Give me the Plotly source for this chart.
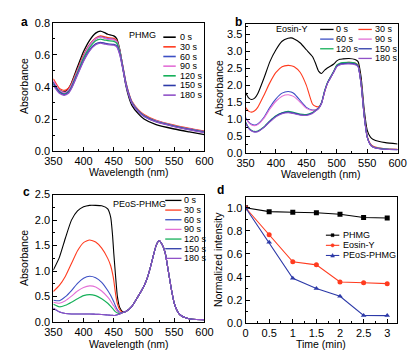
import plotly.graph_objects as go

# ---------------- data ----------------
TIMES = ["0 s", "30 s", "60 s", "90 s", "120 s", "150 s", "180 s"]
COLORS = ["#000000", "#ff3b1f", "#3c4fc4", "#e36fd6", "#16b05a", "#2d3aa8", "#9052c8"]

# Panel a: PHMG
wl_a = [350, 360, 368, 375, 380, 390, 400, 410, 420, 428, 435, 440, 450, 455, 460,
        465, 470, 475, 480, 490, 500, 520, 550, 575, 600]
a_0 = [0.43, 0.38, 0.368, 0.39, 0.425, 0.525, 0.62, 0.69, 0.735, 0.748, 0.738, 0.728, 0.718, 0.70, 0.63,
       0.52, 0.41, 0.335, 0.285, 0.235, 0.200, 0.165, 0.138, 0.120, 0.103]
a_30 = [0.45, 0.39, 0.378, 0.392, 0.42, 0.51, 0.60, 0.665, 0.705, 0.718, 0.712, 0.707, 0.702, 0.688, 0.625,
        0.53, 0.43, 0.36, 0.31, 0.26, 0.228, 0.192, 0.162, 0.142, 0.125]
a_60 = [0.43, 0.375, 0.36, 0.378, 0.41, 0.50, 0.59, 0.66, 0.70, 0.712, 0.705, 0.700, 0.695, 0.682, 0.622,
        0.525, 0.425, 0.355, 0.305, 0.255, 0.222, 0.188, 0.158, 0.138, 0.121]
a_90 = [0.44, 0.38, 0.365, 0.38, 0.41, 0.50, 0.59, 0.658, 0.70, 0.71, 0.703, 0.698, 0.694, 0.68, 0.62,
        0.525, 0.425, 0.355, 0.305, 0.255, 0.222, 0.188, 0.158, 0.138, 0.12]
a_120 = [0.42, 0.37, 0.355, 0.37, 0.40, 0.49, 0.58, 0.645, 0.688, 0.698, 0.692, 0.688, 0.684, 0.672, 0.615,
         0.52, 0.42, 0.352, 0.302, 0.252, 0.22, 0.185, 0.156, 0.136, 0.118]
a_150 = [0.42, 0.365, 0.352, 0.365, 0.395, 0.48, 0.565, 0.63, 0.668, 0.678, 0.672, 0.668, 0.665, 0.655, 0.605,
         0.515, 0.418, 0.35, 0.30, 0.25, 0.218, 0.184, 0.155, 0.135, 0.117]
a_180 = [0.41, 0.36, 0.348, 0.36, 0.39, 0.475, 0.56, 0.625, 0.663, 0.673, 0.667, 0.663, 0.660, 0.65, 0.60,
         0.512, 0.415, 0.348, 0.298, 0.248, 0.216, 0.182, 0.153, 0.133, 0.116]

# Panel b: Eosin-Y
wl_b = [350, 355, 360, 365, 370, 380, 390, 400, 410, 420, 425, 430, 440, 450, 460, 465, 470, 475,
        480, 485, 490, 495, 500, 505, 510, 520, 530, 535, 540, 545, 550, 555, 560, 570, 580, 600]
b_0 = [1.79, 1.63, 1.58, 1.62, 1.75, 2.2, 2.7, 3.05, 3.3, 3.39, 3.40, 3.37, 3.25, 3.05, 2.85, 2.65, 2.42, 2.35,
       2.45, 2.52, 2.57, 2.63, 2.72, 2.77, 2.78, 2.79, 2.76, 2.70, 2.24, 1.3, 0.68, 0.48, 0.40, 0.34, 0.31, 0.27]
b_30 = [1.35, 1.24, 1.21, 1.25, 1.35, 1.7, 2.08, 2.38, 2.55, 2.59, 2.58, 2.55, 2.38, 2.0, 1.45, 1.38, 1.37, 1.48,
        1.8, 2.08, 2.24, 2.4, 2.58, 2.64, 2.66, 2.68, 2.66, 2.60, 2.08, 1.15, 0.5, 0.28, 0.2, 0.15, 0.13, 0.115]
b_60 = [1.05, 0.92, 0.85, 0.83, 0.86, 1.05, 1.35, 1.6, 1.77, 1.82, 1.80, 1.75, 1.55, 1.35, 1.27, 1.28, 1.33, 1.48,
        1.82, 2.08, 2.24, 2.4, 2.57, 2.62, 2.64, 2.66, 2.64, 2.57, 2.05, 1.12, 0.48, 0.26, 0.18, 0.14, 0.12, 0.105]
b_90 = [1.02, 0.90, 0.83, 0.81, 0.84, 1.02, 1.3, 1.53, 1.68, 1.72, 1.70, 1.66, 1.5, 1.32, 1.26, 1.28, 1.33, 1.48,
        1.82, 2.08, 2.24, 2.4, 2.57, 2.62, 2.64, 2.66, 2.64, 2.57, 2.05, 1.12, 0.48, 0.26, 0.18, 0.14, 0.12, 0.105]
b_120 = [0.92, 0.75, 0.67, 0.64, 0.65, 0.77, 0.95, 1.1, 1.19, 1.23, 1.22, 1.2, 1.15, 1.14, 1.2, 1.26, 1.33, 1.5,
         1.85, 2.1, 2.26, 2.42, 2.6, 2.65, 2.67, 2.68, 2.66, 2.58, 2.05, 1.12, 0.48, 0.26, 0.18, 0.14, 0.12, 0.105]
b_150 = [0.90, 0.74, 0.66, 0.63, 0.64, 0.76, 0.94, 1.09, 1.18, 1.21, 1.20, 1.18, 1.13, 1.12, 1.18, 1.25, 1.32, 1.48,
         1.83, 2.08, 2.24, 2.4, 2.57, 2.62, 2.64, 2.65, 2.63, 2.56, 2.03, 1.1, 0.47, 0.25, 0.17, 0.13, 0.115, 0.1]
b_180 = [0.88, 0.73, 0.65, 0.62, 0.63, 0.75, 0.92, 1.07, 1.16, 1.19, 1.18, 1.16, 1.12, 1.11, 1.17, 1.24, 1.31, 1.47,
         1.82, 2.07, 2.23, 2.39, 2.55, 2.6, 2.62, 2.63, 2.61, 2.55, 2.02, 1.1, 0.47, 0.25, 0.17, 0.13, 0.115, 0.1]

# Panel c: PEoS-PHMG (short wavelength part per series, shared long wavelength part)
wl_c_head = [350, 360, 370, 380, 390, 400, 410, 420, 430, 440, 445, 448, 450, 453, 456, 460, 465]
wl_c_tail = [470, 480, 490, 500, 505, 510, 515, 520, 525, 530, 535, 540, 545, 550, 555, 560, 570, 580, 600]
c_tail = [0.21, 0.31, 0.5, 0.71, 0.85, 1.05, 1.28, 1.5, 1.6, 1.52, 1.36, 1.02, 0.66, 0.37, 0.22, 0.14, 0.08, 0.055, 0.05]
c_0 = [1.02, 1.27, 1.65, 2.0, 2.18, 2.26, 2.29, 2.29, 2.28, 2.22, 2.05, 1.7, 1.35, 0.9, 0.5, 0.28, 0.2]
c_30 = [0.6, 0.72, 0.9, 1.15, 1.4, 1.56, 1.61, 1.57, 1.45, 1.25, 1.1, 0.95, 0.82, 0.55, 0.36, 0.24, 0.19]
c_60 = [0.43, 0.42, 0.5, 0.62, 0.76, 0.86, 0.9, 0.87, 0.78, 0.62, 0.52, 0.45, 0.4, 0.31, 0.24, 0.19, 0.19]
c_90 = [0.39, 0.37, 0.42, 0.51, 0.61, 0.68, 0.71, 0.69, 0.61, 0.49, 0.41, 0.35, 0.32, 0.26, 0.21, 0.18, 0.19]
c_120 = [0.35, 0.3, 0.33, 0.39, 0.46, 0.52, 0.54, 0.52, 0.46, 0.37, 0.31, 0.27, 0.24, 0.2, 0.18, 0.17, 0.19]
c_150 = [0.27, 0.2, 0.17, 0.16, 0.16, 0.16, 0.16, 0.155, 0.15, 0.14, 0.135, 0.132, 0.13, 0.135, 0.145, 0.16, 0.19]
c_180 = [0.28, 0.205, 0.17, 0.16, 0.16, 0.16, 0.16, 0.155, 0.15, 0.14, 0.135, 0.132, 0.13, 0.135, 0.145, 0.16, 0.19]

# Panel d: normalized intensity
time_min = [0, 0.5, 1, 1.5, 2, 2.5, 3]
time_ticks = ["0", "0.5", "1", "1.5", "2", "2.5", "3"]
d_phmg = [1.0, 0.966, 0.961, 0.956, 0.943, 0.916, 0.911]
d_eosin = [1.0, 0.766, 0.531, 0.505, 0.356, 0.35, 0.342]
d_peos = [1.0, 0.70, 0.389, 0.30, 0.233, 0.066, 0.065]
D_NAMES = ["PHMG", "Eosin-Y", "PEoS-PHMG"]
D_COLORS = ["#000000", "#ff3b1f", "#2d3aa8"]
D_SYMBOLS = ["square", "circle", "triangle-up"]

# ---------------- figure ----------------
# the page body has an 8 px margin, so the figure is 8 px smaller and all
# layout positions (given in window pixels) are shifted by 8 px
OFF = 8
W, H = 420 - OFF, 360 - OFF
FONT = "Liberation Sans, Arial, sans-serif"


def px(x):
    return (x - OFF) / W


def py(y):
    return 1 - (y - OFF) / H


fig = go.Figure()

series_a = [a_0, a_30, a_60, a_90, a_120, a_150, a_180]
series_b = [b_0, b_30, b_60, b_90, b_120, b_150, b_180]
series_c = [c_0, c_30, c_60, c_90, c_120, c_150, c_180]

for i, ys in enumerate(series_a):
    fig.add_trace(go.Scatter(x=wl_a, y=ys, mode="lines", xaxis="x", yaxis="y", showlegend=False,
                             line=dict(color=COLORS[i], width=1.3, shape="spline", smoothing=0.5)))
for i, ys in enumerate(series_b):
    fig.add_trace(go.Scatter(x=wl_b, y=ys, mode="lines", xaxis="x2", yaxis="y2", showlegend=False,
                             line=dict(color=COLORS[i], width=1.1, shape="spline", smoothing=0.5)))
for i, ys in enumerate(series_c):
    fig.add_trace(go.Scatter(x=wl_c_head + wl_c_tail, y=ys + c_tail, mode="lines", xaxis="x3", yaxis="y3",
                             showlegend=False,
                             line=dict(color=COLORS[i], width=1.1, shape="spline", smoothing=0.5)))
for ys, col, sym in zip([d_phmg, d_eosin, d_peos], D_COLORS, D_SYMBOLS):
    fig.add_trace(go.Scatter(x=time_min, y=ys, mode="lines+markers", xaxis="x4", yaxis="y4", showlegend=False,
                             line=dict(color=col, width=1.1),
                             marker=dict(symbol=sym, size=5, color=col)))

tickfont = dict(family=FONT, size=11, color="black")


def xax(domain, anchor, rng, dtick, minor_dtick, tickvals=None, ticktext=None):
    d = dict(domain=domain, anchor=anchor, range=rng, showgrid=False, zeroline=False,
             showline=True, linecolor="black", linewidth=1, mirror=True,
             ticks="inside", ticklen=4, tickcolor="black", tickfont=tickfont,
             minor=dict(ticks="inside", ticklen=2, dtick=minor_dtick, tickcolor="black"))
    if tickvals is not None:
        d.update(tickmode="array", tickvals=tickvals, ticktext=ticktext)
    else:
        d.update(dtick=dtick, tick0=rng[0])
    return d


def yax(domain, anchor, rng, dtick, minor_dtick):
    return dict(domain=domain, anchor=anchor, range=rng, showgrid=False, zeroline=False,
                showline=True, linecolor="black", linewidth=1, mirror=True,
                ticks="inside", ticklen=4, tickcolor="black", tickfont=tickfont,
                dtick=dtick, tick0=0, tickformat=".1f",
                minor=dict(ticks="inside", ticklen=2, dtick=minor_dtick, tickcolor="black"))


fig.update_layout(
    width=W, height=H, margin=dict(l=0, r=0, t=0, b=0),
    paper_bgcolor="white", plot_bgcolor="white", showlegend=False,
    font=dict(family=FONT, size=11, color="black"),
    xaxis=xax([px(46), px(204)], "y", [350, 600], 50, 25),
    yaxis=yax([py(150), py(17)], "x", [0, 0.8], 0.2, 0.1),
    xaxis2=xax([px(247), px(406)], "y2", [350, 600], 50, 25),
    yaxis2=yax([py(152), py(18)], "x2", [0, 3.82], 0.5, 0.25),
    xaxis3=xax([px(46), px(204)], "y3", [350, 600], 50, 25),
    yaxis3=yax([py(327), py(195)], "x3", [0, 2.5], 0.5, 0.25),
    xaxis4=xax([px(247), px(405)], "y4", [0, 3.2], None, 0.25, time_min, time_ticks),
    yaxis4=yax([py(328), py(197)], "x4", [0, 1.097], 0.2, 0.1),
)

annotations = []
shapes = []


def text(x, y, s, size=11, xanchor="center", angle=0, bold=False):
    annotations.append(dict(x=px(x), y=py(y), xref="paper", yref="paper", text=("<b>%s</b>" % s) if bold else s,
                            showarrow=False, xanchor=xanchor, yanchor="middle", textangle=angle,
                            borderpad=0, font=dict(family=FONT, size=size, color="black")))


def leg_line(x0, x1, y, color, width=1.3):
    shapes.append(dict(type="line", xref="paper", yref="paper", x0=px(x0), x1=px(x1), y0=py(y), y1=py(y),
                       line=dict(color=color, width=width)))


# panel letters
text(16, 16, "a", size=12, bold=True)
text(240, 16, "b", size=12, bold=True)
text(18, 192, "c", size=12, bold=True)
text(221, 190, "d", size=12, bold=True)

# axis titles
TS = 10.5
text(16, 83, "Absorbance", size=TS, angle=-90)
text(220, 85, "Absorbance", size=TS, angle=-90)
text(16, 261, "Absorbance", size=TS, angle=-90)
text(219, 262, "Normalized intensity", size=TS, angle=-90)
text(125, 172, "Wavelength (nm)", size=TS)
text(326, 174, "Wavelength (nm)", size=TS)
text(125, 350, "Wavelength (nm)", size=TS)
text(326, 350, "Time (min)", size=TS)

# legend a
text(139, 30, "PHMG", size=9)
for i, t in enumerate(TIMES):
    y = 32 + 10 * i
    leg_line(161, 174, y, COLORS[i], 1.6)
    text(177, y, t, size=9, xanchor="left")

# legend b (two columns)
text(296, 24, "Eosin-Y", size=9)
col_pos = {0: (325, 24), 2: (325, 34), 4: (325, 44),
           1: (365, 24), 3: (365, 34), 5: (365, 44), 6: (365, 54)}
for i, t in enumerate(TIMES):
    x0, y = col_pos[i]
    leg_line(x0, x0 + 14, y, COLORS[i], 1.3)
    text(x0 + 16, y, t, size=9, xanchor="left")

# legend c
text(136, 205, "PEoS-PHMG", size=9)
for i, t in enumerate(TIMES):
    y = 201 + 10 * i
    leg_line(163, 180, y, COLORS[i], 1.3)
    text(182, y, t, size=9, xanchor="left")

# legend d
for i, name in enumerate(D_NAMES):
    y = 237 + 10.5 * i
    leg_line(331, 345, y, D_COLORS[i], 1.1)
    c = D_COLORS[i]
    if D_SYMBOLS[i] == "square":
        shapes.append(dict(type="rect", xref="paper", yref="paper", x0=px(336.5), x1=px(339.5),
                           y0=py(y + 1.5), y1=py(y - 1.5), fillcolor=c, line=dict(color=c, width=0.5)))
    elif D_SYMBOLS[i] == "circle":
        shapes.append(dict(type="circle", xref="paper", yref="paper", x0=px(336.3), x1=px(339.7),
                           y0=py(y + 1.7), y1=py(y - 1.7), fillcolor=c, line=dict(color=c, width=0.5)))
    else:
        path = "M %f %f L %f %f L %f %f Z" % (px(336), py(y + 1.7), px(340), py(y + 1.7), px(338), py(y - 2))
        shapes.append(dict(type="path", xref="paper", yref="paper", path=path, fillcolor=c,
                           line=dict(color=c, width=0.5)))
    text(348, y, name, size=9, xanchor="left")

fig.update_layout(annotations=annotations, shapes=shapes)
fig.write_html("out.html")
